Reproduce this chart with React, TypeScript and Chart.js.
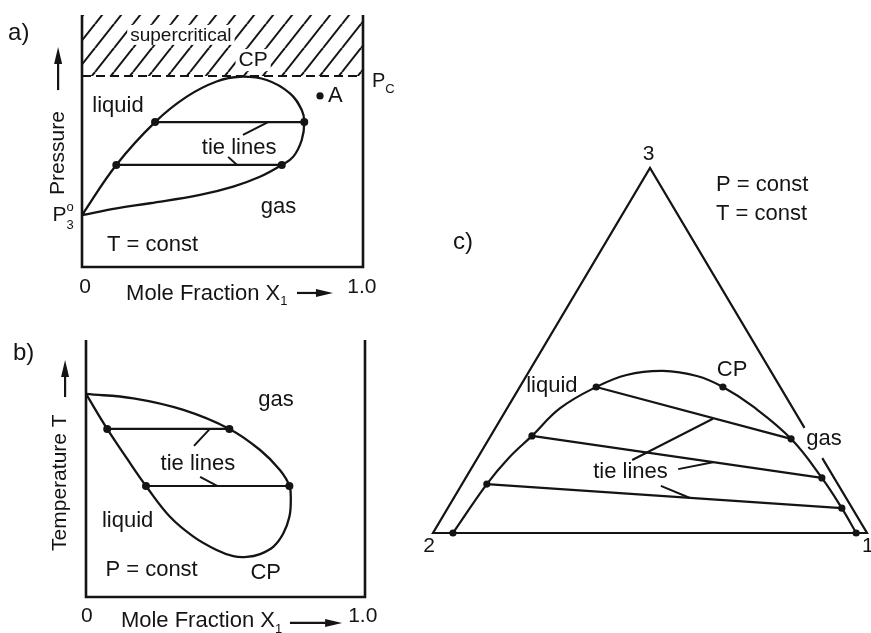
import { useEffect, useRef } from "react";
import { Chart, registerables } from "chart.js";

Chart.register(...registerables);

type Pt = { x: number; y: number };

const INK = "#141414";
const FONT = "'Liberation Sans', Arial, Helvetica, sans-serif";

// ---------- a) isothermal pressure / mole-fraction diagram (x = X1, y = pressure, both 0..1) ----------
const aFrame: Pt[] = [
  { x: 0, y: 1 }, { x: 0, y: 0 }, { x: 1, y: 0 }, { x: 1, y: 1 },
];
const aCriticalPressure = 0.758;
const aEnvelope: Pt[] = [
  { x: 0, y: 0.206 }, { x: 0.122, y: 0.405 }, { x: 0.26, y: 0.575 }, { x: 0.373, y: 0.676 },
  { x: 0.479, y: 0.736 }, { x: 0.562, y: 0.755 }, { x: 0.657, y: 0.742 }, { x: 0.74, y: 0.689 },
  { x: 0.782, y: 0.623 }, { x: 0.791, y: 0.575 }, { x: 0.782, y: 0.504 }, { x: 0.752, y: 0.438 },
  { x: 0.711, y: 0.405 }, { x: 0.633, y: 0.358 }, { x: 0.538, y: 0.319 }, { x: 0.42, y: 0.286 },
  { x: 0.242, y: 0.253 }, { x: 0.123, y: 0.233 }, { x: 0, y: 0.206 },
];
const aTieLines: Pt[][] = [
  [{ x: 0.26, y: 0.575 }, { x: 0.791, y: 0.575 }],
  [{ x: 0.122, y: 0.405 }, { x: 0.711, y: 0.405 }],
];
const aPointA: Pt[] = [{ x: 0.847, y: 0.679 }];
const aLeaders: Pt[][] = [
  [{ x: 0.573, y: 0.524 }, { x: 0.662, y: 0.575 }],
  [{ x: 0.52, y: 0.437 }, { x: 0.552, y: 0.405 }],
];

// ---------- b) isobaric temperature / mole-fraction diagram ----------
const bFrame: Pt[] = [
  { x: 0, y: 1 }, { x: 0, y: 0 }, { x: 1, y: 0 }, { x: 1, y: 1 },
];
const bEnvelope: Pt[] = [
  { x: 0, y: 0.79 }, { x: 0.17, y: 0.773 }, { x: 0.349, y: 0.728 }, { x: 0.514, y: 0.654 },
  { x: 0.624, y: 0.572 }, { x: 0.695, y: 0.494 }, { x: 0.729, y: 0.432 }, { x: 0.734, y: 0.377 },
  { x: 0.729, y: 0.312 }, { x: 0.707, y: 0.247 }, { x: 0.671, y: 0.195 }, { x: 0.624, y: 0.167 },
  { x: 0.576, y: 0.156 }, { x: 0.528, y: 0.159 }, { x: 0.468, y: 0.183 }, { x: 0.385, y: 0.235 },
  { x: 0.301, y: 0.312 }, { x: 0.215, y: 0.432 }, { x: 0.146, y: 0.54 }, { x: 0.076, y: 0.654 },
  { x: 0, y: 0.79 },
];
const bTieLines: Pt[][] = [
  [{ x: 0.076, y: 0.654 }, { x: 0.514, y: 0.654 }],
  [{ x: 0.215, y: 0.432 }, { x: 0.729, y: 0.432 }],
];
const bLeaders: Pt[][] = [
  [{ x: 0.387, y: 0.588 }, { x: 0.444, y: 0.654 }],
  [{ x: 0.409, y: 0.467 }, { x: 0.47, y: 0.432 }],
];

// ---------- c) ternary diagram at constant P and T (x across the base 2 -> 1, y towards apex 3) ----------
const cTriangle: Pt[] = [
  { x: 0.897, y: 0.205 }, { x: 1, y: 0 }, { x: 0, y: 0 }, { x: 0.5, y: 1 }, { x: 0.856, y: 0.288 },
];
const cBinodal: Pt[] = [
  { x: 0.046, y: 0 }, { x: 0.124, y: 0.134 }, { x: 0.174, y: 0.205 }, { x: 0.228, y: 0.266 },
  { x: 0.293, y: 0.342 }, { x: 0.376, y: 0.4 }, { x: 0.446, y: 0.433 }, { x: 0.53, y: 0.444 },
  { x: 0.608, y: 0.43 }, { x: 0.668, y: 0.4 }, { x: 0.738, y: 0.346 }, { x: 0.825, y: 0.258 },
  { x: 0.896, y: 0.151 }, { x: 0.942, y: 0.068 }, { x: 0.975, y: 0 },
];
const cTieLines: Pt[][] = [
  [{ x: 0.376, y: 0.4 }, { x: 0.825, y: 0.258 }],
  [{ x: 0.228, y: 0.266 }, { x: 0.896, y: 0.151 }],
  [{ x: 0.124, y: 0.134 }, { x: 0.942, y: 0.068 }],
];
const cExtraDots: Pt[] = [
  { x: 0.046, y: 0 }, { x: 0.975, y: 0 }, { x: 0.668, y: 0.4 },
];
const cLeaders: Pt[][] = [
  [{ x: 0.459, y: 0.2 }, { x: 0.645, y: 0.313 }],
  [{ x: 0.565, y: 0.175 }, { x: 0.645, y: 0.194 }],
  [{ x: 0.525, y: 0.129 }, { x: 0.592, y: 0.096 }],
];

// ---------- text and arrows ----------
type Piece = { t: string; size?: number; dy?: number; same?: boolean };
type Label = {
  x: number; y: number; size: number; pieces: Piece[];
  align?: "left" | "center"; rotate?: boolean; bg?: boolean;
};
type Arrow = { from: Pt; to: Pt };

const txt = (t: string): Piece[] => [{ t }];
const moleFraction: Piece[] = [{ t: "Mole Fraction X" }, { t: "1", size: 13, dy: 8 }];

const aLabels: Label[] = [
  { x: -0.263, y: 0.929, size: 24, pieces: txt("a)"), align: "left" },
  { x: 0.352, y: 0.919, size: 19, pieces: txt("supercritical"), bg: true },
  { x: 0.609, y: 0.819, size: 21, pieces: txt("CP"), bg: true },
  { x: 0.128, y: 0.639, size: 22, pieces: txt("liquid") },
  { x: 0.559, y: 0.472, size: 22, pieces: txt("tie lines") },
  { x: 0.699, y: 0.237, size: 22, pieces: txt("gas") },
  { x: 0.251, y: 0.087, size: 22, pieces: txt("T = const") },
  { x: 0.875, y: 0.677, size: 22, pieces: txt("A"), align: "left" },
  { x: 1.032, y: 0.736, size: 20, pieces: [{ t: "P" }, { t: "C", size: 13, dy: 8 }], align: "left" },
  {
    x: -0.105, y: 0.204, size: 21, align: "left",
    pieces: [{ t: "P" }, { t: "o", size: 13, dy: -8 }, { t: "3", size: 13, dy: 10, same: true }],
  },
  { x: -0.085, y: 0.452, size: 21, pieces: txt("Pressure"), rotate: true },
  { x: 0.011, y: -0.081, size: 21, pieces: txt("0") },
  { x: 0.157, y: -0.105, size: 22, pieces: moleFraction, align: "left" },
  { x: 0.996, y: -0.081, size: 21, pieces: txt("1.0") },
];
const aArrows: Arrow[] = [
  { from: { x: -0.085, y: 0.702 }, to: { x: -0.085, y: 0.873 } },
  { from: { x: 0.765, y: -0.103 }, to: { x: 0.893, y: -0.103 } },
];

const bLabels: Label[] = [
  { x: -0.262, y: 0.947, size: 24, pieces: txt("b)"), align: "left" },
  { x: 0.681, y: 0.765, size: 22, pieces: txt("gas") },
  { x: 0.401, y: 0.517, size: 22, pieces: txt("tie lines") },
  { x: 0.149, y: 0.297, size: 22, pieces: txt("liquid") },
  { x: 0.235, y: 0.107, size: 22, pieces: txt("P = const") },
  { x: 0.644, y: 0.095, size: 22, pieces: txt("CP") },
  { x: -0.093, y: 0.445, size: 21, pieces: txt("Temperature T"), rotate: true },
  { x: 0.003, y: -0.076, size: 21, pieces: txt("0") },
  { x: 0.125, y: -0.095, size: 22, pieces: moleFraction, align: "left" },
  { x: 0.992, y: -0.076, size: 21, pieces: txt("1.0") },
];
const bArrows: Arrow[] = [
  { from: { x: -0.075, y: 0.778 }, to: { x: -0.075, y: 0.922 } },
  { from: { x: 0.731, y: -0.101 }, to: { x: 0.918, y: -0.101 } },
];

const cLabels: Label[] = [
  { x: 0.497, y: 1.037, size: 21, pieces: txt("3") },
  { x: 0.652, y: 0.953, size: 22, pieces: txt("P = const"), align: "left" },
  { x: 0.652, y: 0.873, size: 22, pieces: txt("T = const"), align: "left" },
  { x: 0.046, y: 0.797, size: 24, pieces: txt("c)"), align: "left" },
  { x: 0.274, y: 0.402, size: 22, pieces: txt("liquid") },
  { x: 0.689, y: 0.447, size: 22, pieces: txt("CP") },
  { x: 0.901, y: 0.259, size: 22, pieces: txt("gas") },
  { x: 0.455, y: 0.166, size: 22, pieces: txt("tie lines") },
  { x: -0.009, y: -0.037, size: 21, pieces: txt("2") },
  { x: 1.002, y: -0.037, size: 21, pieces: txt("1") },
];

// ---------- drawing helpers ----------
const line = (data: Pt[], width: number, extra: Record<string, unknown> = {}) => ({
  data, showLine: true, borderColor: INK, borderWidth: width, pointRadius: 0,
  tension: 0, fill: false, clip: false, borderCapStyle: "butt", borderJoinStyle: "miter", ...extra,
});
const dots = (data: Pt[], r: number) => ({
  data, showLine: false, pointRadius: r, pointBackgroundColor: INK, pointBorderWidth: 0,
  pointHoverRadius: r, clip: false,
});

function hatch(ctx: CanvasRenderingContext2D): CanvasPattern | string {
  const w = 19, h = 24;
  const c = document.createElement("canvas");
  c.width = w; c.height = h;
  const g = c.getContext("2d");
  if (!g) return "transparent";
  g.strokeStyle = INK;
  g.lineWidth = 2;
  for (const o of [-w, 0, w]) {
    g.beginPath(); g.moveTo(o, h); g.lineTo(o + w, 0); g.stroke();
  }
  return ctx.createPattern(c, "repeat") || "transparent";
}

function annotator(labels: Label[], arrows: Arrow[]) {
  return {
    id: "annotator",
    afterDatasetsDraw(chart: Chart) {
      const { ctx } = chart;
      const xs = chart.scales.x, ys = chart.scales.y;
      const X = (v: number) => xs.getPixelForValue(v);
      const Y = (v: number) => ys.getPixelForValue(v);
      ctx.save();
      ctx.fillStyle = INK;
      ctx.strokeStyle = INK;
      for (const a of arrows) {
        const x0 = X(a.from.x), y0 = Y(a.from.y), x1 = X(a.to.x), y1 = Y(a.to.y);
        const len = Math.hypot(x1 - x0, y1 - y0);
        const ux = (x1 - x0) / len, uy = (y1 - y0) / len;
        const hl = 17, hw = 4;
        const bx = x1 - ux * hl, by = y1 - uy * hl;
        ctx.lineWidth = 2.2;
        ctx.beginPath(); ctx.moveTo(x0, y0); ctx.lineTo(bx + ux * 2, by + uy * 2); ctx.stroke();
        ctx.beginPath();
        ctx.moveTo(x1, y1);
        ctx.lineTo(bx - uy * hw, by + ux * hw);
        ctx.lineTo(bx + uy * hw, by - ux * hw);
        ctx.closePath(); ctx.fill();
      }
      ctx.textBaseline = "middle";
      ctx.textAlign = "left";
      for (const l of labels) {
        const parts = l.pieces.map((p) => {
          const size = p.size ?? l.size;
          ctx.font = `${size}px ${FONT}`;
          return { ...p, size, w: ctx.measureText(p.t).width };
        });
        let cursor = 0, total = 0, prevStart = 0;
        const placed = parts.map((p) => {
          const start = p.same ? prevStart : cursor;
          prevStart = start;
          cursor = start + p.w;
          total = Math.max(total, cursor);
          return { ...p, start };
        });
        ctx.save();
        ctx.translate(X(l.x), Y(l.y));
        if (l.rotate) ctx.rotate(-Math.PI / 2);
        const ox = l.align === "left" ? 0 : -total / 2;
        if (l.bg) {
          ctx.fillStyle = "#ffffff";
          ctx.fillRect(ox - 3, -l.size * 0.55, total + 6, l.size * 1.05);
          ctx.fillStyle = INK;
        }
        for (const p of placed) {
          ctx.font = `${p.size}px ${FONT}`;
          ctx.fillText(p.t, ox + p.start, p.dy ?? 0);
        }
        ctx.restore();
      }
      ctx.restore();
    },
  };
}

type Panel = {
  left: number; top: number; width: number; height: number;
  pad: { left: number; top: number; right: number; bottom: number };
};
const panelA: Panel = { left: 0, top: 0, width: 400, height: 305, pad: { left: 82, top: 15, right: 37, bottom: 38 } };
const panelB: Panel = { left: 0, top: 305, width: 400, height: 328, pad: { left: 86, top: 35, right: 35, bottom: 36 } };
const panelC: Panel = { left: 405, top: 135, width: 466, height: 498, pad: { left: 28, top: 33, right: 4, bottom: 100 } };

function makeChart(canvas: HTMLCanvasElement, panel: Panel, datasets: unknown[], labels: Label[], arrows: Arrow[]) {
  return new Chart(canvas, {
    type: "line",
    data: { datasets: datasets as never[] },
    options: {
      animation: false,
      responsive: false,
      devicePixelRatio: 1,
      layout: { padding: panel.pad },
      events: [],
      elements: { line: { capBezierPoints: false } },
      scales: {
        x: { type: "linear", min: 0, max: 1, display: false },
        y: { type: "linear", min: 0, max: 1, display: false },
      },
      plugins: { legend: { display: false }, tooltip: { enabled: false }, title: { display: false } },
    },
    plugins: [annotator(labels, arrows)],
  });
}

export default function App() {
  const refA = useRef<HTMLCanvasElement>(null);
  const refB = useRef<HTMLCanvasElement>(null);
  const refC = useRef<HTMLCanvasElement>(null);

  useEffect(() => {
    const charts: Chart[] = [];
    const ca = refA.current, cb = refB.current, cc = refC.current;
    if (ca) {
      const ctx = ca.getContext("2d") as CanvasRenderingContext2D;
      charts.push(makeChart(ca, panelA, [
        ...aTieLines.map((t) => dots(t, 4)),
        dots(aPointA, 3.6),
        line(aEnvelope, 2.3, { tension: 0.4 }),
        ...aTieLines.map((t) => line(t, 2.2)),
        ...aLeaders.map((t) => line(t, 2)),
        line(aFrame, 2.6),
        line([{ x: 0, y: aCriticalPressure }, { x: 1, y: aCriticalPressure }], 2.2, { borderDash: [9, 5] }),
        {
          data: [{ x: 0, y: 1 }, { x: 1, y: 1 }], showLine: true, borderWidth: 0, pointRadius: 0,
          borderColor: "transparent", backgroundColor: hatch(ctx), fill: { value: aCriticalPressure },
        },
      ], aLabels, aArrows));
    }
    if (cb) {
      charts.push(makeChart(cb, panelB, [
        ...bTieLines.map((t) => dots(t, 4)),
        line(bEnvelope, 2.3, { tension: 0.4 }),
        ...bTieLines.map((t) => line(t, 2.2)),
        ...bLeaders.map((t) => line(t, 2)),
        line(bFrame, 2.6),
      ], bLabels, bArrows));
    }
    if (cc) {
      charts.push(makeChart(cc, panelC, [
        ...cTieLines.map((t) => dots(t, 3.6)),
        dots(cExtraDots, 3.6),
        line(cBinodal, 2.2, { tension: 0.4 }),
        ...cTieLines.map((t) => line(t, 2.2)),
        ...cLeaders.map((t) => line(t, 2)),
        line(cTriangle, 2.2),
      ], cLabels, []));
    }
    return () => charts.forEach((c) => c.destroy());
  }, []);

  const style = (p: Panel) => ({ position: "absolute" as const, left: p.left, top: p.top, width: p.width, height: p.height });
  return (
    <div style={{ position: "absolute", left: 0, top: 0, width: 871, height: 633, background: "#ffffff", overflow: "hidden" }}>
      <canvas ref={refA} width={panelA.width} height={panelA.height} style={style(panelA)} />
      <canvas ref={refB} width={panelB.width} height={panelB.height} style={style(panelB)} />
      <canvas ref={refC} width={panelC.width} height={panelC.height} style={style(panelC)} />
    </div>
  );
}
